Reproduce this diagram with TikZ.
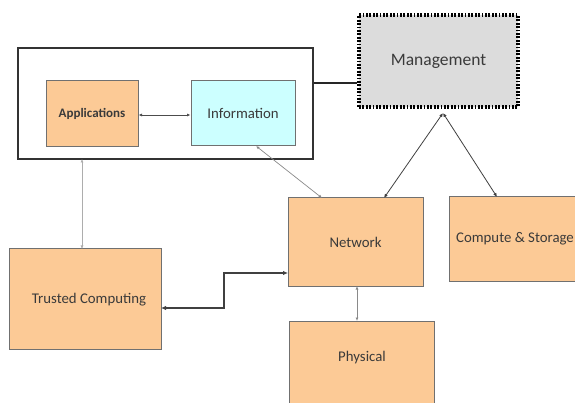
\documentclass[tikz,border=0pt]{standalone}
\usepackage{fontspec}
\setmainfont{Carlito}
\usetikzlibrary{arrows.meta}
\definecolor{peach}{HTML}{FCCA96}
\definecolor{lcyan}{HTML}{CCFFFF}
\definecolor{mgray}{HTML}{DCDCDC}
\definecolor{bordergray}{HTML}{707070}
\definecolor{txt}{HTML}{3A3A3A}
\definecolor{linegray}{HTML}{8A8A8A}
\tikzset{
  box/.style={draw=bordergray, line width=1pt, fill=peach, inner sep=0pt, text=txt, font=\fontsize{14.8}{16}\selectfont},
  lbl/.style={text=txt, font=\fontsize{14.8}{16}\selectfont, inner sep=0pt},
  thin arr/.style={draw=linegray, line width=0.7pt, {Latex[length=3.5pt,width=3pt]}-{Latex[length=3.5pt,width=3pt]}},
  dark arr/.style={draw=black!75, line width=0.8pt, {Latex[length=4pt,width=3.5pt]}-{Latex[length=4pt,width=3.5pt]}},
}
\begin{document}
\begin{tikzpicture}[x=1pt,y=-1pt]
\useasboundingbox (0,0) rectangle (575,403);
% outer box
\node[draw=black!80, line width=2pt, minimum width=295pt, minimum height=111pt, inner sep=0pt] (outer) at (165.5,103.5) {};
% management
\node[draw=black, line width=3.2pt, dash pattern=on 1.8pt off 1.6pt, fill=mgray, minimum width=159pt, minimum height=92pt, inner sep=0pt, text=txt, font=\fontsize{17.5}{19}\selectfont] (mgmt) at (438.5,61) {Management};
% inner boxes
\node[box, minimum width=92pt, minimum height=66pt, font=\fontsize{13}{15}\selectfont\bfseries] (apps) at (92,114) {Applications};
\node[box, fill=lcyan, minimum width=104pt, minimum height=65pt] (info) at (243,113.5) {Information};
\node[box, minimum width=135pt, minimum height=88pt] (net) at (355.5,242) {Network};
\node[box, minimum width=132pt, minimum height=84pt] (comp) at (515,239) {Compute \& Storage};
\node[box, minimum width=152pt, minimum height=100pt] (trust) at (85,299) {};
\node[lbl] (trustlbl) at (89,300) {Trusted Computing};
\node[box, minimum width=145pt, minimum height=96pt] (phys) at (361.5,369) {};
\node[lbl] (physlbl) at (362,358) {Physical};
% coordinates
\coordinate (o1) at (outer.east |- 0,83);
\coordinate (m1) at (mgmt.west |- 0,83);
\coordinate (mb) at (443,113);
\coordinate (nt1) at (384,198);
\coordinate (ct1) at (497,197);
\coordinate (ib) at (256,146);
\coordinate (nt2) at (322,198);
\coordinate (ob) at (82,159);
\coordinate (tt) at (82,249);
\coordinate (nl) at (288,273);
\coordinate (tr) at (161,308);
\coordinate (nb) at (357,286);
\coordinate (pt) at (357,321);
% connectors
\draw[black!85, line width=2pt] (o1) -- (m1);
\draw[thin arr, draw=black!70] (apps.east |- 0,115) -- (info.west |- 0,115);
\draw[thin arr] (ib) -- (nt2);
\draw[dark arr] (mb) -- (nt1);
\draw[dark arr] (mb) -- (ct1);
\draw[thin arr, draw=linegray!70, line width=0.6pt] (ob) -- (tt);
\draw[dark arr, line width=1.2pt, {Latex[length=5pt,width=4.5pt]}-{Latex[length=5pt,width=4.5pt]}] (nl) -- (224,273) -- (224,308) -- (tr);
\draw[thin arr] (nb) -- (pt);
\end{tikzpicture}
\end{document}
